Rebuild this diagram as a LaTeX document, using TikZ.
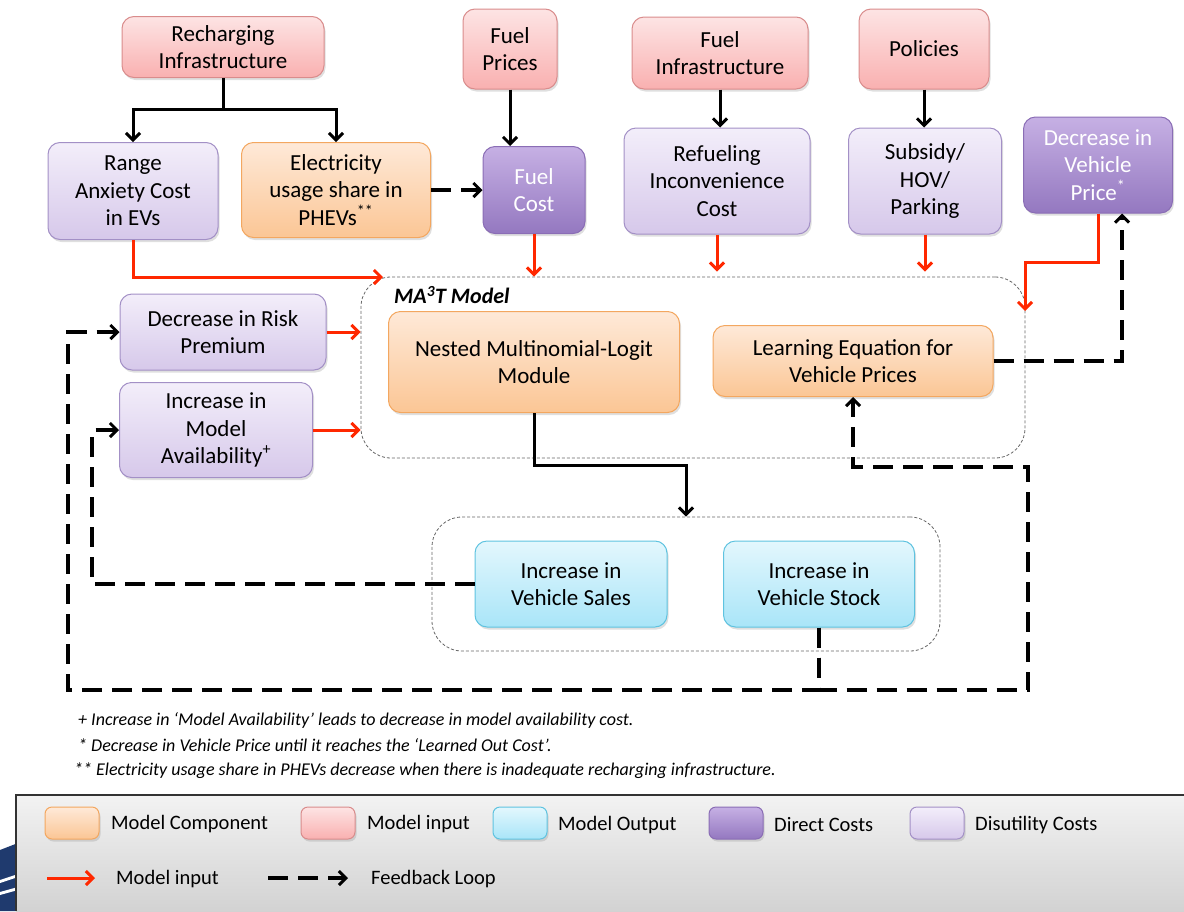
\documentclass[tikz,border=0pt]{standalone}
\usepackage{fontspec}
\setmainfont{Carlito}
\usetikzlibrary{arrows.meta,shadows,calc}
\definecolor{redin}{RGB}{255,40,0}
\definecolor{inTop}{HTML}{FDE4E4}\definecolor{inBot}{HTML}{F9B0B0}\definecolor{inBd}{HTML}{D98C8C}
\definecolor{disTop}{HTML}{F3EEFA}\definecolor{disBot}{HTML}{D6C8EA}\definecolor{disBd}{HTML}{A390C6}
\definecolor{dirTop}{HTML}{C6B0E4}\definecolor{dirBot}{HTML}{9478C0}\definecolor{dirBd}{HTML}{8A6DB5}
\definecolor{mcTop}{HTML}{FEE9D8}\definecolor{mcBot}{HTML}{FBC695}\definecolor{mcBd}{HTML}{F3A760}
\definecolor{outTop}{HTML}{E3F7FD}\definecolor{outBot}{HTML}{A9E5F8}\definecolor{outBd}{HTML}{5FC3E0}
\definecolor{navy}{HTML}{1F3A6E}
\tikzset{
  box/.style={rounded corners=12pt, align=center, inner sep=0pt, line width=1pt,
    font=\fontsize{23}{27.5}\selectfont,
    drop shadow={shadow xshift=1.5pt,shadow yshift=-2.5pt,opacity=0.25}},
  inbox/.style={box, top color=inTop, bottom color=inBot, draw=inBd},
  disbox/.style={box, top color=disTop, bottom color=disBot, draw=disBd},
  dirbox/.style={box, top color=dirTop, bottom color=dirBot, draw=dirBd, text=white},
  mcbox/.style={box, top color=mcTop, bottom color=mcBot, draw=mcBd},
  outbox/.style={box, top color=outTop, bottom color=outBot, draw=outBd},
  group/.style={draw=gray!80!black, rounded corners=30pt, line width=0.8pt, dash pattern=on 3pt off 2pt, inner sep=0pt},
  blk/.style={draw=black, line width=3pt, -{Straight Barb[length=7pt,width=14pt,line width=3pt]}},
  redarr/.style={draw=redin, line width=3pt, -{Straight Barb[length=7pt,width=14pt,line width=3pt]}},
  fb/.style={draw=black, line width=4pt, dash pattern=on 20pt off 10pt, -{Straight Barb[length=7pt,width=14pt,line width=3pt]}},
  note/.style={font=\fontsize{18}{20}\selectfont\itshape, anchor=west, inner sep=0pt},
  legtxt/.style={font=\fontsize{20.5}{24}\selectfont, anchor=west, inner sep=0pt},
  swatch/.style={rounded corners=7pt, line width=1pt, minimum width=54pt, minimum height=32pt, inner sep=0pt,
    drop shadow={shadow xshift=1.5pt,shadow yshift=-2.5pt,opacity=0.25}}
}
\begin{document}
\begin{tikzpicture}[x=1pt,y=-1pt]
\useasboundingbox (0,0) rectangle (1184,911);

% containers
\node[group, minimum width=664pt, minimum height=181pt] (ma) at (693,367.5) {};
\node[font=\fontsize{22}{26}\selectfont\bfseries\itshape, anchor=west, inner sep=0pt] (matitle) at (394,295) {MA\textsuperscript{3}T Model};
\node[group, minimum width=508pt, minimum height=134pt] (out) at (686,584) {};

% nodes
\node[inbox, minimum width=202pt, minimum height=61pt] (rech) at (223,47) {Recharging\\Infrastructure};
\node[disbox, minimum width=170pt, minimum height=97pt] (range) at (133,191) {Range\\Anxiety Cost\\in EVs};
\node[mcbox, minimum width=189pt, minimum height=95pt] (elec) at (336,190) {Electricity\\usage share in\\PHEVs\textsuperscript{**}};
\node[inbox, minimum width=94pt, minimum height=80pt] (fprice) at (510,49) {Fuel\\Prices};
\node[dirbox, minimum width=102pt, minimum height=87pt] (fcost) at (534,190) {Fuel\\Cost};
\node[inbox, minimum width=176pt, minimum height=72pt] (finfra) at (720,53) {Fuel\\Infrastructure};
\node[disbox, minimum width=186pt, minimum height=106pt] (refuel) at (717,181) {Refueling\\Inconvenience\\Cost};
\node[inbox, minimum width=130pt, minimum height=80pt] (policies) at (924,49) {Policies};
\node[disbox, minimum width=153pt, minimum height=106pt] (subsidy) at (925,181) {Subsidy/\\HOV/\\Parking};
\node[dirbox, minimum width=149pt, minimum height=96pt] (dvp) at (1098,165) {Decrease in\\Vehicle\\Price\textsuperscript{*}};
\node[mcbox, minimum width=291pt, minimum height=101pt] (nested) at (534,362) {Nested Multinomial-Logit\\Module};
\node[mcbox, minimum width=280pt, minimum height=71pt] (learn) at (853,361) {Learning Equation for\\Vehicle Prices};
\node[disbox, minimum width=206pt, minimum height=76pt] (risk) at (223,332) {Decrease in Risk\\Premium};
\node[disbox, minimum width=193pt, minimum height=95pt] (avail) at (216,430) {Increase in\\Model\\Availability\textsuperscript{+}};
\node[outbox, minimum width=192pt, minimum height=86pt] (sales) at (571,584) {Increase in\\Vehicle Sales};
\node[outbox, minimum width=191pt, minimum height=86pt] (stock) at (819,584) {Increase in\\Vehicle Stock};

% black connectors
\draw[blk] (rech.south) -- ++(0,31) -| (range.north);
\draw[blk] (rech.south) -- ++(0,31) -| (elec.north);
\draw[blk] (fprice.south) -- (fprice.south |- fcost.north);
\draw[blk] (finfra.south) -- (finfra.south |- refuel.north);
\draw[blk] (policies.south) -- (policies.south |- subsidy.north);
\draw[blk] (nested.south) -- ++(0,52) -| (out.north);
\draw[fb] (elec.east) -- (fcost.west);

% red model inputs
\coordinate (maIn) at (383,277);
\coordinate (maR) at (1025,311);
\draw[redarr] (range.south) |- (maIn);
\draw[redarr] (fcost.south) -- (fcost.south |- ma.north);
\draw[redarr] (refuel.south) -- ($(refuel.south |- ma.north)+(0,-5)$);
\draw[redarr] (subsidy.south) -- ($(subsidy.south |- ma.north)+(0,-5)$);
\draw[redarr] (dvp.south) -- ++(0,49) -| (maR);
\draw[redarr] (risk.east) -- (risk.east -| ma.west);
\draw[redarr] (avail.east) -- (avail.east -| ma.west);

% feedback loops
\coordinate (bl) at (68,690);
\coordinate (br) at (1028,690);
\coordinate (rt) at (1028,467);
\coordinate (sl) at (92,584);
\draw[fb] (learn.east) -| ($(dvp.south)+(24,0)$);
\draw[fb] (stock.south) |- (bl) |- (risk.west);
\draw[fb] (stock.south) |- (br) -- (rt) -| (learn.south);
\draw[fb] (sales.west) -- (sl) |- (avail.west);

% notes
\node[note] (n1) at (78,720) {+ Increase in ‘Model Availability’ leads to decrease in model availability cost.};
\node[note] (n2) at (78,745) {* Decrease in Vehicle Price until it reaches the ‘Learned Out Cost’.};
\node[note] (n3) at (74,771) {** Electricity usage share in PHEVs decrease when there is inadequate recharging infrastructure.};

% logo fragment
\fill[navy] (0,850) -- (18,843) -- (18,911) -- (0,911) -- cycle;
\fill[white] (0,880) -- (18,874) -- (18,877) -- (0,883) -- cycle;
\fill[white] (0,892) -- (18,887) -- (18,890) -- (0,895) -- cycle;

% legend
\fill[top color=gray!10, bottom color=gray!35] (16,795) rectangle (1184,911);
\draw[gray!40!black, line width=1.2pt] (1184,795) -- (16,795) -- (16,911);
\node[swatch, top color=mcTop, bottom color=mcBot, draw=mcBd] (lg1) at (72,823) {};
\node[legtxt] (lt1) at (111,824) {Model Component};
\node[swatch, top color=inTop, bottom color=inBot, draw=inBd] (lg2) at (328,823) {};
\node[legtxt] (lt2) at (367,824) {Model input};
\node[swatch, top color=outTop, bottom color=outBot, draw=outBd] (lg3) at (520,823) {};
\node[legtxt] (lt3) at (558,825) {Model Output};
\node[swatch, top color=dirTop, bottom color=dirBot, draw=dirBd] (lg4) at (736,823) {};
\node[legtxt] (lt4) at (774,825) {Direct Costs};
\node[swatch, top color=disTop, bottom color=disBot, draw=disBd] (lg5) at (937,823) {};
\node[legtxt] (lt5) at (975,825) {Disutility Costs};
\coordinate (la1) at (47,878);
\coordinate (la2) at (95,878);
\draw[redarr] (la1) -- (la2);
\node[legtxt] (lt6) at (116,879) {Model input};
\coordinate (lb1) at (268,878);
\coordinate (lb2) at (348,878);
\draw[fb] (lb1) -- (lb2);
\node[legtxt] (lt7) at (371,879) {Feedback Loop};
\end{tikzpicture}
\end{document}
